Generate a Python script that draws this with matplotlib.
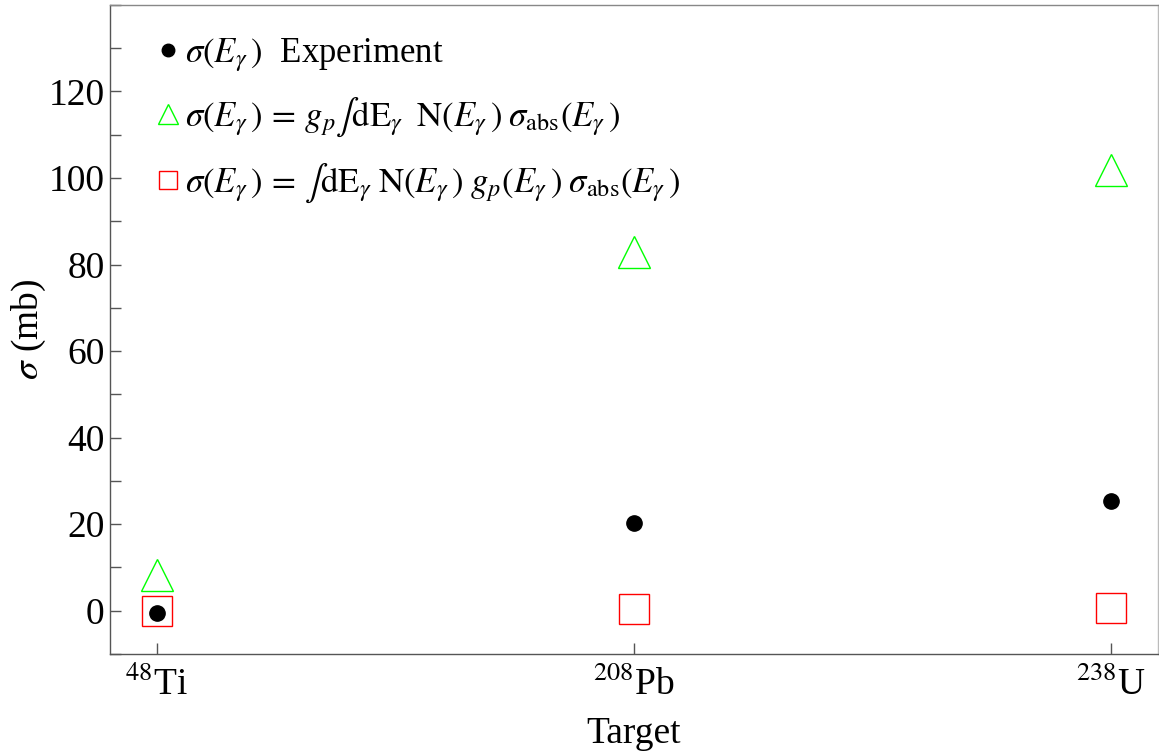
import matplotlib
matplotlib.use("Agg")
import matplotlib.pyplot as plt
from matplotlib.lines import Line2D
from matplotlib.ticker import MultipleLocator

plt.rcParams['font.family'] = ['Liberation Serif', 'DejaVu Serif']
plt.rcParams['mathtext.fontset'] = 'stix'

targets = [r'$^{48}$Ti', r'$^{208}$Pb', r'$^{238}$U']
x_pos = [1, 2, 3]
sigma_exp = [-0.6, 20.2, 25.3]
sigma_gp_const = [8.2, 83.0, 101.8]
sigma_gp_energy = [0.0, 0.3, 0.6]

labels = [
    r'$\sigma(E_\gamma\,)$  Experiment',
    r'$\sigma(E_\gamma\,)\, =\, g_p \int \mathrm{dE}_\gamma\;\; \mathrm{N}(E_\gamma\,)\; \sigma_{\mathrm{abs}}(E_\gamma\,)$',
    r'$\sigma(E_\gamma\,)\, =\, \int \mathrm{dE}_\gamma\; \mathrm{N}(E_\gamma\,)\; g_p(E_\gamma\,)\; \sigma_{\mathrm{abs}}(E_\gamma\,)$',
]

fig = plt.figure(figsize=(11.59, 7.53), dpi=100)
ax = fig.add_axes([0.0949, 0.1315, 0.9041, 0.862])

ax.plot(x_pos, sigma_gp_const, linestyle='none', marker='^', ms=23,
        mfc='none', mec='#00ff00', mew=1.0)
ax.plot(x_pos, sigma_gp_energy, linestyle='none', marker='s', ms=22,
        mfc='none', mec='#ff0000', mew=1.0)
ax.plot(x_pos, sigma_exp, linestyle='none', marker='o', ms=11,
        color='black')

ax.set_xlim(0.9015, 3.0985)
ax.set_ylim(-10, 140)
ax.set_xticks(x_pos)
ax.set_xticklabels(targets, fontsize=27)
ax.yaxis.set_major_locator(MultipleLocator(20))
ax.yaxis.set_minor_locator(MultipleLocator(10))
ax.set_yticks([0, 20, 40, 60, 80, 100, 120])
ax.tick_params(axis='y', which='both', direction='in', length=8, width=1,
               labelsize=27, color='#555555', pad=4)
ax.tick_params(axis='x', which='both', direction='in', length=8, width=1,
               color='#555555', pad=9)
ax.tick_params(axis='x', which='minor', bottom=False)
for s in ax.spines.values():
    s.set_color('#555555')
    s.set_linewidth(1.0)
ax.spines['right'].set_color('#bbbbbb')
ax.spines['top'].set_color('#888888')

ax.set_xlabel('Target', fontsize=27, labelpad=10)
ax.set_ylabel(r'$\sigma$ (mb)', fontsize=27, labelpad=0)

handles = [
    Line2D([], [], linestyle='none', marker='o', ms=9, color='black'),
    Line2D([], [], linestyle='none', marker='^', ms=15, mfc='none',
           mec='#00ff00', mew=1.0),
    Line2D([], [], linestyle='none', marker='s', ms=13, mfc='none',
           mec='#ff0000', mew=1.0),
]
ax.legend(handles, labels, loc='upper left', frameon=False, fontsize=25,
          handlelength=0.6, handletextpad=0.2, labelspacing=0.65,
          borderaxespad=0.3, bbox_to_anchor=(0.022, 0.99))

fig.savefig('out.png', dpi=100)
